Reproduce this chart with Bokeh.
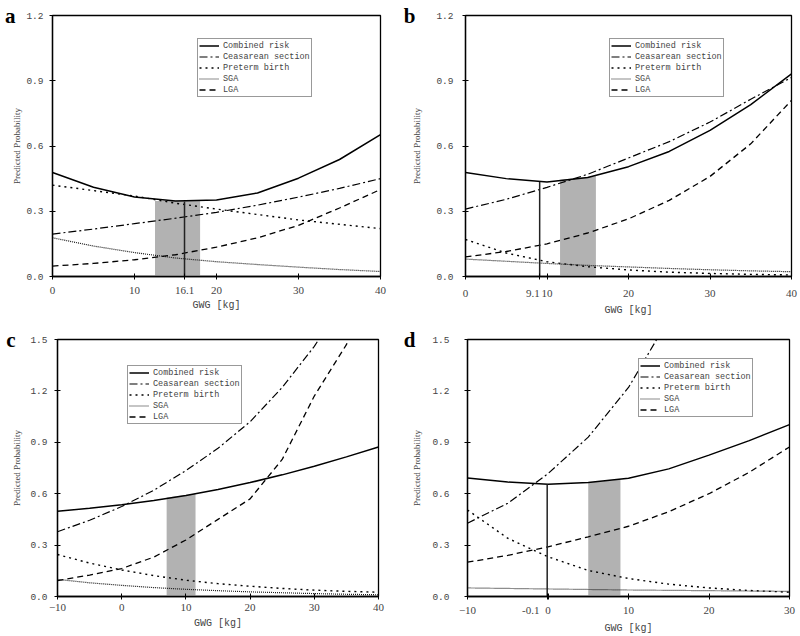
from bokeh.plotting import figure
from bokeh.models import Range1d, Legend, LegendItem, FixedTicker, LinearAxis
from bokeh.layouts import row, column
from bokeh.embed import file_html
from bokeh.resources import INLINE

# ---------------- data ----------------
# Panel a
xa = [0, 5, 10, 15, 20, 25, 30, 35, 40]
comb_a = [0.478, 0.41, 0.366, 0.347, 0.352, 0.384, 0.452, 0.538, 0.652]
ces_a = [0.195, 0.218, 0.243, 0.268, 0.295, 0.328, 0.365, 0.405, 0.45]
pre_a = [0.42, 0.395, 0.37, 0.337, 0.31, 0.285, 0.26, 0.24, 0.22]
sga_a = [0.178, 0.14, 0.11, 0.085, 0.068, 0.055, 0.043, 0.032, 0.023]
lga_a = [0.048, 0.06, 0.077, 0.1, 0.135, 0.178, 0.235, 0.315, 0.40]
shade_x_a = [12.5, 18.0]
shade_top_a = [0.347, 0.349]
opt_a = 16.1
opt_y_a = 0.345

# Panel b
xb = [0, 5, 10, 15, 20, 25, 30, 35, 40]
comb_b = [0.478, 0.45, 0.435, 0.455, 0.505, 0.575, 0.672, 0.79, 0.932]
ces_b = [0.31, 0.355, 0.41, 0.47, 0.545, 0.62, 0.71, 0.815, 0.915]
pre_b = [0.17, 0.108, 0.068, 0.045, 0.03, 0.02, 0.014, 0.01, 0.007]
sga_b = [0.08, 0.07, 0.06, 0.051, 0.044, 0.037, 0.031, 0.026, 0.022]
lga_b = [0.09, 0.115, 0.15, 0.2, 0.265, 0.35, 0.46, 0.61, 0.81]
shade_x_b = [11.6, 16.0]
shade_top_b = [0.445, 0.462]
opt_b = 9.1
opt_y_b = 0.434

# Panel c
xc = [-10, -5, 0, 5, 10, 15, 20, 25, 30, 35, 40]
comb_c = [0.497, 0.515, 0.535, 0.56, 0.59, 0.625, 0.665, 0.71, 0.76, 0.815, 0.873]
ces_c = [0.378, 0.445, 0.525, 0.62, 0.735, 0.865, 1.02, 1.22, 1.46, 1.75, 2.05]
pre_c = [0.245, 0.195, 0.155, 0.122, 0.095, 0.075, 0.06, 0.047, 0.037, 0.03, 0.025]
sga_c = [0.1, 0.08, 0.065, 0.052, 0.042, 0.034, 0.027, 0.022, 0.017, 0.013, 0.01]
lga_c = [0.093, 0.125, 0.163, 0.23, 0.33, 0.45, 0.57, 0.80, 1.17, 1.47, 1.9]
shade_x_c = [7.0, 11.5]
shade_top_c = [0.578, 0.600]

# Panel d
xd = [-10, -5, 0, 5, 10, 15, 20, 25, 30]
comb_d = [0.692, 0.668, 0.655, 0.665, 0.69, 0.745, 0.825, 0.91, 1.003]
ces_d = [0.428, 0.544, 0.717, 0.93, 1.22, 1.62, 2.1, 2.7, 3.4]
pre_d = [0.505, 0.34, 0.232, 0.152, 0.105, 0.072, 0.05, 0.035, 0.025]
sga_d = [0.05, 0.047, 0.044, 0.041, 0.038, 0.036, 0.034, 0.032, 0.03]
lga_d = [0.2, 0.24, 0.29, 0.348, 0.41, 0.495, 0.60, 0.725, 0.873]
shade_x_d = [5.0, 9.0]
shade_top_d = [0.665, 0.683]
opt_d = -0.1
opt_y_d = 0.655

ticks_x_ab = [0, 10, 20, 30, 40]
ticks_x_c = [-10, 0, 10, 20, 30, 40]
ticks_x_d = [-10, 0, 10, 20, 30]
ticks_y_ab = [0.0, 0.3, 0.6, 0.9, 1.2]
ticks_y_cd = [0.0, 0.3, 0.6, 0.9, 1.2, 1.5]
tick_labels_y = {0.0: "0.0", 0.3: "0.3", 0.6: "0.6", 0.9: "0.9", 1.2: "1.2", 1.5: "1.5"}

series_names = ["Combined risk", "Ceasarean section", "Preterm birth", "SGA", "LGA"]

MONO = "Liberation Mono"
SERIF = "Liberation Serif"
NB = "\u00a0"


def panel(letter, x, comb, ces, pre, sga, lga, shade_x, shade_top,
          opt, opt_y, opt_pad, xr, yr, xticks, yticks,
          leg_loc, width, height, borders, xstand, ystand):
    bl, br, bt, bb = borders
    p = figure(width=width, height=height, output_backend="svg",
               toolbar_location=None, x_range=Range1d(*xr), y_range=Range1d(*yr),
               min_border_left=bl, min_border_right=br, min_border_top=bt,
               min_border_bottom=bb)
    p.xgrid.visible = False
    p.ygrid.visible = False
    p.outline_line_color = "black"
    p.outline_line_width = 1.3
    p.background_fill_color = "white"
    p.border_fill_color = "white"

    # shaded optimal range
    p.varea(x=shade_x, y1=[0, 0], y2=shade_top, fill_color="#b2b2b2", fill_alpha=1.0)

    r1 = p.line(x, comb, line_color="black", line_width=1.5)
    r2 = p.line(x, ces, line_color="black", line_width=1.2, line_dash="8 3 2 3")
    r3 = p.line(x, pre, line_color="black", line_width=1.4, line_dash="2 4")
    r4 = p.line(x, sga, line_color="#1a1a1a", line_width=1.2, line_dash="1 1")
    r5 = p.line(x, lga, line_color="black", line_width=1.3, line_dash="6 4")

    xt = list(xticks)
    x_over = {}
    if opt is not None:
        p.segment(x0=[opt], y0=[0], x1=[opt], y1=[opt_y], line_color="#222222", line_width=1.5)
        xt.append(opt)
        x_over[opt] = str(opt) + NB * opt_pad

    items = [LegendItem(label=n, renderers=[r]) for n, r in zip(series_names, [r1, r2, r3, r4, r5])]
    leg = Legend(items=items, location=leg_loc, label_text_font=MONO,
                 label_text_font_size="8.5px", label_height=11, glyph_height=11,
                 glyph_width=20, spacing=0, padding=1, margin=0, label_standoff=4,
                 border_line_color="#333333", border_line_width=1,
                 background_fill_alpha=1.0)
    p.add_layout(leg)

    for ax in (p.xaxis[0], p.yaxis[0]):
        ax.axis_line_color = "black"
        ax.axis_line_width = 1.3
        ax.major_tick_in = 3
        ax.major_tick_out = 3
        ax.major_tick_line_color = "black"
        ax.minor_tick_line_color = None
    p.xaxis.ticker = FixedTicker(ticks=sorted(xt))
    if x_over:
        p.xaxis.major_label_overrides = x_over
    p.yaxis.ticker = FixedTicker(ticks=yticks)
    p.yaxis.major_label_overrides = {t: tick_labels_y[t] for t in yticks}
    p.xaxis.major_label_text_font = SERIF
    p.xaxis.major_label_text_font_size = "11px"
    p.yaxis.major_label_text_font = MONO
    p.yaxis.major_label_text_font_size = "9.5px"
    p.xaxis.major_label_standoff = xstand[0]
    p.yaxis.major_label_standoff = ystand[0]
    p.xaxis.axis_label = "GWG [kg]"
    p.xaxis.axis_label_text_font = MONO
    p.xaxis.axis_label_text_font_style = "normal"
    p.xaxis.axis_label_text_font_size = "10px"
    p.xaxis.axis_label_standoff = xstand[1]
    p.yaxis.axis_label = "Predicted Probability"
    p.yaxis.axis_label_text_font = SERIF
    p.yaxis.axis_label_text_font_style = "normal"
    p.yaxis.axis_label_text_font_size = "9px"
    p.yaxis.axis_label_standoff = ystand[1]

    # panel letter: an outer left axis with a single labelled tick at the top
    top = yr[1]
    lax = LinearAxis(ticker=FixedTicker(ticks=[top]), major_label_overrides={top: letter},
                     axis_line_color=None, major_tick_line_color=None,
                     minor_tick_line_color=None, major_tick_in=0, major_tick_out=0,
                     major_label_standoff=-6, major_label_text_font=SERIF,
                     major_label_text_font_style="bold", major_label_text_font_size="21px",
                     major_label_text_color="black")
    p.add_layout(lax, "left")
    return p


pa = panel("a", xa, comb_a, ces_a, pre_a, sga_a, lga_a, shade_x_a, shade_top_a,
           opt_a, opt_y_a, 0, (0, 40), (0, 1.2), ticks_x_ab, ticks_y_ab,
           (145, 179), 400, 318, (52, 20, 14, 41), (7, 3), (6, 1))
pb = panel("b", xb, comb_b, ces_b, pre_b, sga_b, lga_b, shade_x_b, shade_top_b,
           opt_b, opt_y_b, 5, (0, 40), (0, 1.2), ticks_x_ab, ticks_y_ab,
           (144, 179), 400, 318, (65, 9, 15, 41), (7, 3), (9, 11))
pc = panel("c", xc, comb_c, ces_c, pre_c, sga_c, lga_c, shade_x_c, shade_top_c,
           None, None, 0, (-10, 40), (0, 1.5), ticks_x_c, ticks_y_cd,
           (70, 172), 400, 318, (57, 22, 21, 37), (4, 4), (7, 5))
pd_ = panel("d", xd, comb_d, ces_d, pre_d, sga_d, lga_d, shade_x_d, shade_top_d,
            opt_d, opt_y_d, 12, (-10, 30), (0, 1.5), ticks_x_d, ticks_y_cd,
            (171, 179), 400, 318, (67, 11, 21, 37), (4, 4), (15, 7))

layout = column(row(pa, pb), row(pc, pd_))

open("out.html", "w").write(file_html(layout, INLINE))
